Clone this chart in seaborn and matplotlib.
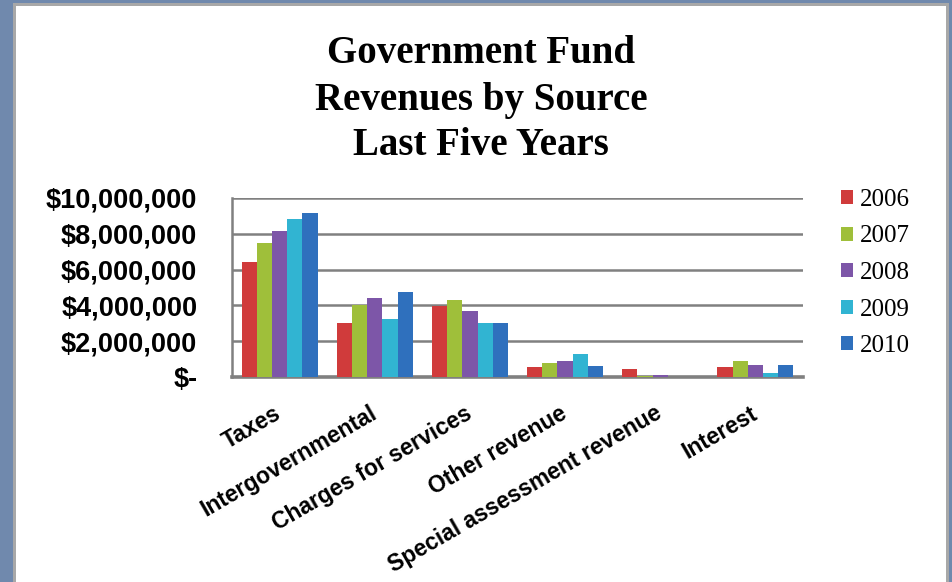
import matplotlib
matplotlib.use("Agg")
import matplotlib.pyplot as plt
from matplotlib.patches import Rectangle
import seaborn as sns
import pandas as pd

categories = ["Taxes", "Intergovernmental", "Charges for services",
              "Other revenue", "Special assessment revenue", "Interest"]
years = ["2006", "2007", "2008", "2009", "2010"]
v2006 = [6410000, 3000000, 3950000, 570000, 420000, 570000]
v2007 = [7470000, 4020000, 4290000, 800000, 40000, 900000]
v2008 = [8130000, 4390000, 3680000, 900000, 120000, 680000]
v2009 = [8830000, 3250000, 3000000, 1290000, 0, 250000]
v2010 = [9170000, 4760000, 3000000, 600000, 0, 680000]
y_ticks = [0, 2000000, 4000000, 6000000, 8000000, 10000000]
y_tick_labels = ["$-", "$2,000,000", "$4,000,000", "$6,000,000", "$8,000,000", "$10,000,000"]
title_lines = ["Government Fund", "Revenues by Source", "Last Five Years"]

series = [v2006, v2007, v2008, v2009, v2010]
rows = []
for yr, vals in zip(years, series):
    for c, v in zip(categories, vals):
        rows.append({"Source": c, "Year": yr, "Revenue": v})
df = pd.DataFrame(rows)

palette = ["#d03b3b", "#9fbf3a", "#7d56a8", "#31b4d2", "#2f70bd"]

sns.set_style("white")
plt.rcParams["text.color"] = "black"
plt.rcParams["xtick.color"] = "black"
plt.rcParams["ytick.color"] = "black"
W, H = 953, 582
fig = plt.figure(figsize=(W / 100, H / 100), dpi=100)
fig.patch.set_facecolor("#7089ad")
# frame
fig.patches.append(Rectangle((13 / W, 0), (949 - 13) / W, (H - 3) / H,
                             transform=fig.transFigure, facecolor="#a8a8a8",
                             edgecolor="none", zorder=-10))
fig.patches.append(Rectangle((16 / W, 0), (946 - 16) / W, (H - 6) / H,
                             transform=fig.transFigure, facecolor="white",
                             edgecolor="none", zorder=-9))

ax = fig.add_axes([232 / W, 1 - 377 / H, 571 / W, 179 / H])
ax.set_facecolor("none")
sns.barplot(data=df, x="Source", y="Revenue", hue="Year", palette=palette,
            order=categories, hue_order=years, ax=ax, width=0.8,
            saturation=1, edgecolor="none", zorder=3)

ax.set_ylim(0, 10000000)
ax.set_xlim(-0.5, len(categories) - 0.5)
ax.set_yticks(y_ticks, y_tick_labels)
ax.set_xlabel("")
ax.set_ylabel("")
ax.yaxis.grid(True, color="#808080", lw=1.8, zorder=0)
ax.set_axisbelow(True)
for s in ["top", "right"]:
    ax.spines[s].set_visible(False)
ax.spines["left"].set_color("#808080")
ax.spines["left"].set_linewidth(1.8)
ax.spines["bottom"].set_color("#808080")
ax.spines["bottom"].set_linewidth(2.6)

ax.tick_params(axis="y", length=0, pad=25, colors="black")
ax.tick_params(axis="x", length=0, pad=25, colors="black")
for lab in ax.get_yticklabels():
    lab.set_fontfamily("Liberation Sans")
    lab.set_fontweight("bold")
    lab.set_fontsize(19.5)
    lab.set_color("black")
for lab in ax.get_xticklabels():
    lab.set_fontfamily("Liberation Sans")
    lab.set_fontweight("bold")
    lab.set_fontsize(16.5)
    lab.set_rotation(30)
    lab.set_ha("right")
    lab.set_va("center")
    lab.set_rotation_mode("anchor")
    lab.set_color("black")

handles, labels = ax.get_legend_handles_labels()
leg = ax.legend(handles, labels, loc="upper left",
                bbox_to_anchor=(841 / W, 1 - 189 / H), bbox_transform=fig.transFigure,
                frameon=False, borderpad=0, borderaxespad=0,
                handlelength=0.5, handleheight=0.5, handletextpad=0.25,
                labelspacing=0.58,
                prop={"family": "Liberation Serif", "size": 18})
for t in leg.get_texts():
    t.set_color("black")

baselines = [63, 110, 155]
for t, b in zip(title_lines, baselines):
    fig.text(481 / W, 1 - b / H, t, ha="center", va="baseline", color="black",
             fontsize=28, fontweight="bold", family="Liberation Serif")

fig.savefig("out.png", dpi=100, facecolor=fig.get_facecolor())
